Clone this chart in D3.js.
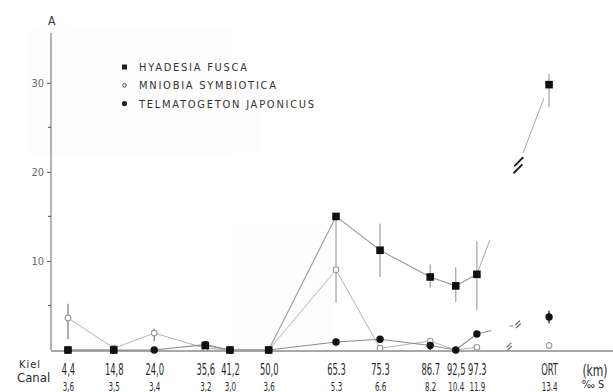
<!DOCTYPE html>
<html>
<head>
<meta charset="utf-8">
<script src="https://cdn.jsdelivr.net/npm/d3@7"></script>
<style>
  html, body { margin: 0; padding: 0; background: #fff; }
  svg { display: block; }
  text { font-family: "DejaVu Sans Condensed", "Liberation Sans", sans-serif; }
</style>
</head>
<body>
<svg id="chart" width="613" height="392"></svg>
<script>
// Sampling stations along the Kiel Canal (km) plus the open-water site beyond the axis break
const stationPos    = [4.4, 14.8, 24.0, 35.6, 41.2, 50.0, 65.3, 75.3, 86.7, 92.5, 97.3, 113.7];
const kmLabels      = ["4,4", "14,8", "24,0", "35,6", "41,2", "50,0", "65.3", "75.3", "86.7", "92,5", "97.3", "ORT"];
const salinityLabels = ["3,6", "3,5", "3,4", "3,2", "3,0", "3,6", "5.3", "6.6", "8.2", "10.4", "11.9", "13.4"];

// Abundance A per station
const hyadesia     = [0, 0, null, 0.5, 0, 0, 15.0, 11.2, 8.2, 7.2, 8.5, 29.8];
const hyadesiaLow  = [null, null, null, null, null, null, 5.3, 8.2, 7.0, 5.4, 4.5, 27.3];
const hyadesiaHigh = [null, null, null, null, null, null, 15.0, 14.2, 9.6, 9.3, 12.2, 31.0];

const mniobia      = [3.6, 0.2, 1.9, 0.2, 0, 0, 9.0, 0.2, 1.0, 0, 0.3, 0.5];
const mniobiaLow   = [1.2, null, 1.0, null, null, null, null, null, 0.6, null, null, 0.1];
const mniobiaHigh  = [5.2, null, 2.4, null, null, null, null, null, 1.3, null, null, 0.9];

const telmatogeton     = [0, 0, 0, 0.6, 0, 0, 0.9, 1.2, 0.5, 0, 1.8, 3.7];
const telmatogetonLow  = [null, null, null, null, null, null, null, null, 0.0, null, null, 3.0];
const telmatogetonHigh = [null, null, null, null, null, null, null, null, 0.9, null, null, 4.4];

const yMajor = [10, 20, 30];
const yMinor = [5, 15, 25];
const legendNames = ["HYADESIA  FUSCA", "MNIOBIA  SYMBIOTICA", "TELMATOGETON  JAPONICUS"];

const svg = d3.select("#chart");
const x = d3.scaleLinear().domain([0, 127]).range([48.6, 607.6]);
const y = d3.scaleLinear().domain([0, 35.6]).range([350, 33]);
const axisColor = "#8a8a8a";

// faint scan patches of the printed page
svg.append("rect").attr("x", 27).attr("y", 29).attr("width", 206).attr("height", 126).attr("fill", "#fdfdfd");
svg.append("rect").attr("x", 233).attr("y", 81).attr("width", 29).attr("height", 72).attr("fill", "#fdfdfd");
svg.append("rect").attr("x", 233).attr("y", 223).attr("width", 100).attr("height", 126).attr("fill", "#fdfdfd");

// y axis
const yAxis = svg.append("g").attr("transform", `translate(${x(0) + 2.4},0)`)
  .call(d3.axisLeft(y).tickValues(yMajor).tickSize(4).tickPadding(3).tickFormat(d3.format("d")));
yAxis.select(".domain").remove();
yAxis.selectAll(".tick line").attr("stroke", "#666").attr("stroke-width", 1.2);
yAxis.selectAll(".tick text").attr("fill", "#6a6a6a").style("font-size", "11px");
yAxis.append("line").attr("x1", 0).attr("x2", 0).attr("y1", y(35.6)).attr("y2", y(0))
  .attr("stroke", axisColor).attr("stroke-width", 1.3);
yAxis.selectAll(".minor").data(yMinor).join("line")
  .attr("x1", -3).attr("x2", 0).attr("y1", d => y(d)).attr("y2", d => y(d))
  .attr("stroke", "#666").attr("stroke-width", 1.2);
svg.append("text").attr("x", x(0) + 3).attr("y", 25).attr("text-anchor", "middle")
  .attr("fill", "#333").style("font-size", "12px").text("A");

// baseline
svg.append("line").attr("x1", x(0) + 2.4).attr("x2", 613).attr("y1", y(0) + 1).attr("y2", y(0) + 1)
  .attr("stroke", axisColor).attr("stroke-width", 1.6);

// x labels: km and salinity rows (narrow lettering)
function labelRow(labels, baseY, size, sx) {
  const g = svg.append("g").attr("transform", `translate(0,${baseY})`)
    .call(d3.axisBottom(x).tickValues(stationPos).tickSize(0).tickPadding(0)
      .tickFormat((d, i) => labels[i]));
  g.select(".domain").remove();
  g.selectAll(".tick text").attr("y", 0).attr("dy", 0).attr("fill", "#2a2a2a")
    .style("font-size", size + "px").attr("transform", `scale(${sx},1)`);
}
labelRow(kmLabels, 375, 16, 0.58);
labelRow(salinityLabels, 391, 12, 0.66);

svg.append("text").attr("x", 595).attr("y", 376).attr("text-anchor", "middle")
  .attr("fill", "#2a2a2a").style("font-size", "15px").attr("transform", "translate(595,0) scale(0.8,1) translate(-595,0)").text("(km)");
svg.append("text").attr("x", 593).attr("y", 388).attr("text-anchor", "middle")
  .attr("fill", "#2a2a2a").style("font-size", "11px").text("‰ S");
svg.append("text").attr("x", 19).attr("y", 368).attr("fill", "#2a2a2a")
  .style("font-size", "11px").style("letter-spacing", "1px").text("Kiel");
svg.append("text").attr("x", 17).attr("y", 382).attr("fill", "#2a2a2a")
  .style("font-size", "13px").text("Canal");

// connecting lines: stations within the canal joined directly, the last hop drawn across a break
function drawSeries(vals, color, width) {
  const pts = vals.map((v, i) => v == null ? null : [x(stationPos[i]), y(v)]);
  const canal = pts.slice(0, 11);
  const line = d3.line().defined(d => d != null);
  svg.append("path").attr("d", line(canal)).attr("fill", "none")
    .attr("stroke", color).attr("stroke-width", width);
  return pts;
}
function brokenHop(p0, p1, parts, color, width) {
  parts.forEach(([a, b]) => {
    svg.append("line")
      .attr("x1", p0[0] + (p1[0] - p0[0]) * a).attr("y1", p0[1] + (p1[1] - p0[1]) * a)
      .attr("x2", p0[0] + (p1[0] - p0[0]) * b).attr("y2", p0[1] + (p1[1] - p0[1]) * b)
      .attr("stroke", color).attr("stroke-width", width);
  });
}
// "//" break symbol: two parallel 45° strokes, offset along and across their direction
function breakMarks(p0, p1, t, size, along, across, color, width) {
  const cx = p0[0] + (p1[0] - p0[0]) * t, cy = p0[1] + (p1[1] - p0[1]) * t;
  const dir = [Math.SQRT1_2, -Math.SQRT1_2], perp = [Math.SQRT1_2, Math.SQRT1_2];
  [-1, 1].forEach(s => {
    const mx = cx + s * (dir[0] * along - perp[0] * across);
    const my = cy + s * (dir[1] * along - perp[1] * across);
    svg.append("line")
      .attr("x1", mx - dir[0] * size).attr("y1", my - dir[1] * size)
      .attr("x2", mx + dir[0] * size).attr("y2", my + dir[1] * size)
      .attr("stroke", color).attr("stroke-width", width).attr("stroke-linecap", "round");
  });
}

const mPts = drawSeries(mniobia, "#b4b4b4", 1);
const tPts = drawSeries(telmatogeton, "#8c8c8c", 1.1);
const hPts = drawSeries(hyadesia, "#9a9a9a", 1.1);

brokenHop(hPts[10], hPts[11], [[0, 0.18], [0.64, 0.93]], "#a8a8a8", 1);
breakMarks(hPts[10], hPts[11], 0.575, 5.5, 2.8, 2.2, "#222", 2);
brokenHop(tPts[10], tPts[11], [[0, 0.2], [0.45, 0.5]], "#888", 1);
breakMarks(tPts[10], tPts[11], 0.57, 2.8, 0.8, 1.3, "#555", 1.1);
breakMarks(mPts[10], mPts[11], 0.45, 2.8, 0.8, 1.3, "#666", 1.1);

// error bars
function errorBars(low, high, color, width) {
  low.forEach((lo, i) => {
    if (lo == null) return;
    svg.append("line").attr("x1", x(stationPos[i])).attr("x2", x(stationPos[i]))
      .attr("y1", y(lo)).attr("y2", y(high[i]))
      .attr("stroke", color).attr("stroke-width", width);
  });
}
errorBars(hyadesiaLow, hyadesiaHigh, "#a0a0a0", 1.2);
errorBars(mniobiaLow, mniobiaHigh, "#777", 1.2);
errorBars(telmatogetonLow, telmatogetonHigh, "#333", 1.4);

// markers
svg.selectAll(".mn").data(mniobia.map((v, i) => [v, i]).filter(d => d[0] != null)).join("circle")
  .attr("cx", d => x(stationPos[d[1]])).attr("cy", d => y(d[0])).attr("r", 2.8)
  .attr("fill", "#fff").attr("stroke", "#999").attr("stroke-width", 1.1);
svg.selectAll(".hy").data(hyadesia.map((v, i) => [v, i]).filter(d => d[0] != null)).join("rect")
  .attr("x", d => x(stationPos[d[1]]) - 3.8).attr("y", d => y(d[0]) - 3.8)
  .attr("width", 7.6).attr("height", 7.6).attr("fill", "#111");
svg.selectAll(".te").data(telmatogeton.map((v, i) => [v, i]).filter(d => d[0] != null)).join("circle")
  .attr("cx", d => x(stationPos[d[1]])).attr("cy", d => y(d[0])).attr("r", 3.7)
  .attr("fill", "#111");

// legend
const legend = svg.append("g");
legendNames.forEach((name, i) => {
  const ly = 67 + i * 18.3;
  if (i === 0) legend.append("rect").attr("x", 122).attr("y", ly - 2.5).attr("width", 5).attr("height", 5).attr("fill", "#222");
  if (i === 1) legend.append("circle").attr("cx", 124.5).attr("cy", ly).attr("r", 1.8).attr("fill", "#fff").attr("stroke", "#444").attr("stroke-width", 1);
  if (i === 2) legend.append("circle").attr("cx", 124.5).attr("cy", ly).attr("r", 2.6).attr("fill", "#222");
  legend.append("text").attr("x", 139).attr("y", ly + 4).attr("fill", "#333")
    .style("font-size", "11px").style("letter-spacing", "1.75px").text(name);
});
</script>
</body>
</html>
